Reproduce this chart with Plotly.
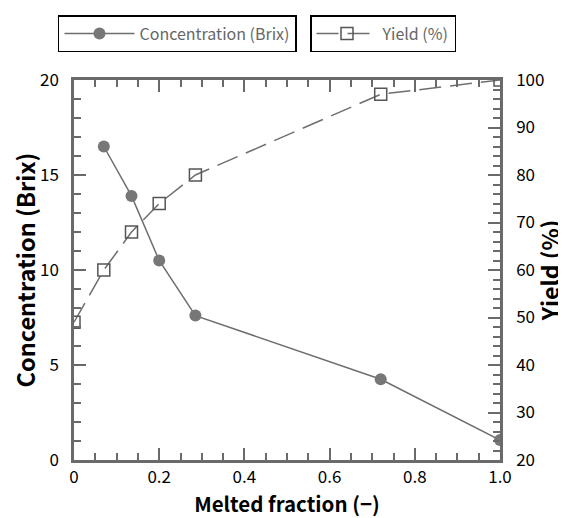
import plotly.graph_objects as go

# Data
melt_conc = [0.07, 0.135, 0.2, 0.285, 0.72, 1.0]
concentration = [16.5, 13.9, 10.5, 7.6, 4.25, 1.05]
melt_yield = [0.0, 0.07, 0.135, 0.2, 0.285, 0.72, 1.0]
yield_pct = [49, 60, 68, 74, 80, 97, 100]

x_ticks = [0, 0.2, 0.4, 0.6, 0.8, 1.0]
x_ticktext = ["0", "0.2", "0.4", "0.6", "0.8", "1.0"]
y_ticks = [0, 5, 10, 15, 20]
y2_ticks = [20, 30, 40, 50, 60, 70, 80, 90, 100]

FONT = "Noto Sans CJK JP"
GRAY = "#6e6e6e"
AXC = "#6a6a6a"

fig = go.Figure()
fig.add_trace(go.Scatter(
    x=melt_conc, y=concentration, name="Concentration (Brix)",
    mode="lines+markers",
    line=dict(color=GRAY, width=1.5),
    marker=dict(symbol="circle", size=12, color="#777777"),
    legend="legend",
))
fig.add_trace(go.Scatter(
    x=melt_yield, y=yield_pct, name="Yield (%)", yaxis="y2",
    mode="lines+markers",
    line=dict(color=GRAY, width=1.5, dash="22px,9px"),
    marker=dict(symbol="square-open", size=12, color="#555555", line=dict(width=1.5)),
    legend="legend2",
))

axis_common = dict(
    showline=True, linecolor=AXC, linewidth=2.5,
    ticks="inside", ticklen=12, tickwidth=1.5, tickcolor=AXC,
    showgrid=False, zeroline=False,
    tickfont=dict(family=FONT, size=17, color="black"),
)

fig.update_layout(
    width=558, height=510,
    margin=dict(l=66, r=66, t=72, b=58, autoexpand=False),
    plot_bgcolor="white", paper_bgcolor="white",
    font=dict(family=FONT),
    xaxis=dict(
        range=[0, 1], tickvals=x_ticks, ticktext=x_ticktext,
        mirror="ticks",
        minor=dict(dtick=0.05, ticklen=7, ticks="inside", tickcolor=AXC, tickwidth=1.5),
        title=dict(text="<b>Melted fraction (−)</b>", font=dict(family=FONT, size=20.5, color="black"), standoff=6),
        ticklabelstandoff=0,
        **axis_common,
    ),
    yaxis=dict(
        range=[0, 20], tickvals=y_ticks,
        minor=dict(dtick=1, ticklen=7, ticks="inside", tickcolor=AXC, tickwidth=1.5),
        title=dict(text="<b>Concentration (Brix)</b>", font=dict(family=FONT, size=23.5, color="black"), standoff=4),
        ticklabelstandoff=9,
        **axis_common,
    ),
    yaxis2=dict(
        range=[20, 100], tickvals=y2_ticks, overlaying="y", side="right",
        minor=dict(dtick=2, ticklen=7, ticks="inside", tickcolor=AXC, tickwidth=1.5),
        title=dict(text="<b>Yield (%)</b>", font=dict(family=FONT, size=23, color="black"), standoff=9),
        ticklabelstandoff=10,
        **axis_common,
    ),
    legend=dict(
        x=-0.0376, y=1.171, xanchor="left", yanchor="top",
        bordercolor="black", borderwidth=1.5, bgcolor="white",
        font=dict(family=FONT, size=16, color="#666666"),
        itemwidth=70,
    ),
    legend2=dict(
        x=0.554, y=1.171, xanchor="left", yanchor="top",
        bordercolor="black", borderwidth=1.5, bgcolor="white",
        font=dict(family=FONT, size=16, color="#666666"),
        itemwidth=61,
    ),
    showlegend=True,
)

fig.write_html("out.html")
